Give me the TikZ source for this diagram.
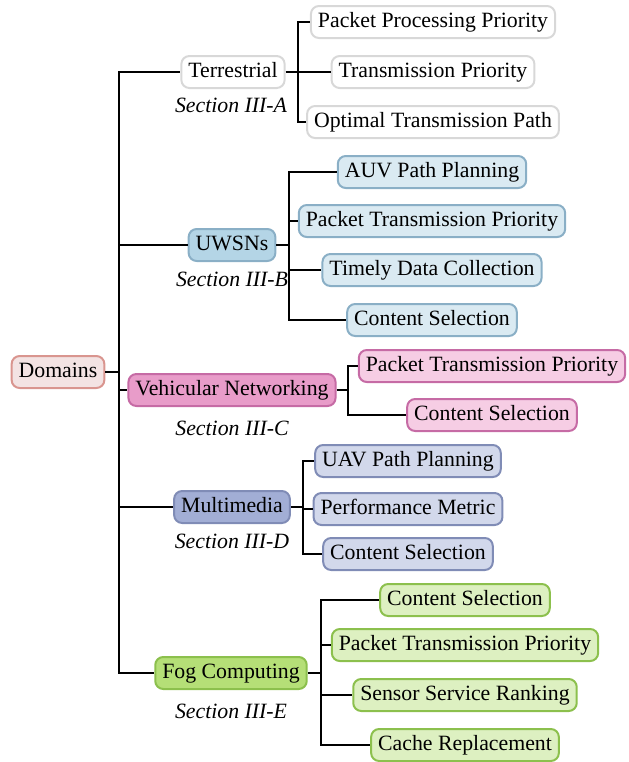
\documentclass[tikz,border=0pt]{standalone}
\usepackage{fontspec}
\setmainfont{Liberation Serif}
\definecolor{rootfill}{HTML}{F3E3E3}
\definecolor{rootline}{HTML}{D9958F}
\definecolor{greyline}{HTML}{D8D8D8}
\definecolor{bluepf}{HTML}{B4D5E6}
\definecolor{bluecf}{HTML}{DAEAF2}
\definecolor{blueline}{HTML}{8AAFC6}
\definecolor{pinkpf}{HTML}{E89CC9}
\definecolor{pinkcf}{HTML}{F6CDE4}
\definecolor{pinkline}{HTML}{C66BA5}
\definecolor{purppf}{HTML}{A2AED5}
\definecolor{purpcf}{HTML}{D2D8EB}
\definecolor{purpline}{HTML}{808CB6}
\definecolor{greenpf}{HTML}{B5DF77}
\definecolor{greencf}{HTML}{DDF0C1}
\definecolor{greenline}{HTML}{8CC04D}
\begin{document}
\begin{tikzpicture}[x=0.5pt,y=-0.5pt,
  box/.style={draw, line width=1pt, rounded corners=4pt, inner xsep=3.5pt, inner ysep=2pt,
    minimum height=16pt, text height=7.4pt, text depth=1.6pt, font=\fontsize{10.9}{13}\selectfont},
  sec/.style={font=\fontsize{10.9}{13}\selectfont\itshape},
  link/.style={line width=0.6pt},
  greybox/.style={box, draw=greyline, fill=white},
  rootbox/.style={box, draw=rootline, fill=rootfill},
  bluep/.style={box, draw=blueline, fill=bluepf},
  bluec/.style={box, draw=blueline, fill=bluecf},
  pinkp/.style={box, draw=pinkline, fill=pinkpf},
  pinkc/.style={box, draw=pinkline, fill=pinkcf},
  purpp/.style={box, draw=purpline, fill=purppf},
  purpc/.style={box, draw=purpline, fill=purpcf},
  greenp/.style={box, draw=greenline, fill=greenpf},
  greenc/.style={box, draw=greenline, fill=greencf}]
\useasboundingbox (0,0) rectangle (628,762);

% root and trunk
\node[rootbox] (dom) at (58,372) {Domains};
\coordinate (trunk) at (119,372);
\draw[link] (dom.east) -- (trunk);

% Terrestrial
\node[greybox] (ter) at (233,72) {Terrestrial};
\node[sec] at (231,105) {Section III-A};
\node[greybox] (ter1) at (433,22) {Packet Processing Priority};
\node[greybox] (ter2) at (433,72) {Transmission Priority};
\node[greybox] (ter3) at (433,122) {Optimal Transmission Path};
\coordinate (terj) at (298,72);

% UWSNs
\node[bluep] (uw) at (232,245) {UWSNs};
\node[sec] at (232,279) {Section III-B};
\node[bluec] (uw1) at (432,172) {AUV Path Planning};
\node[bluec] (uw2) at (432,221) {Packet Transmission Priority};
\node[bluec] (uw3) at (432,270) {Timely Data Collection};
\node[bluec] (uw4) at (432,320) {Content Selection};
\coordinate (uwj) at (289,245);

% Vehicular Networking
\node[pinkp] (veh) at (232,390) {Vehicular Networking};
\node[sec] at (232,428) {Section III-C};
\node[pinkc] (veh1) at (492,366) {Packet Transmission Priority};
\node[pinkc] (veh2) at (492,415) {Content Selection};
\coordinate (vehj) at (348,390);

% Multimedia
\node[purpp] (mm) at (232,507) {Multimedia};
\node[sec] at (232,541) {Section III-D};
\node[purpc] (mm1) at (408,461) {UAV Path Planning};
\node[purpc] (mm2) at (408,509) {Performance Metric};
\node[purpc] (mm3) at (408,554) {Content Selection};
\coordinate (mmj) at (303,507);

% Fog Computing
\node[greenp] (fog) at (231,673) {Fog Computing};
\node[sec] at (231,711) {Section III-E};
\node[greenc] (fog1) at (465,600) {Content Selection};
\node[greenc] (fog2) at (465,645) {Packet Transmission Priority};
\node[greenc] (fog3) at (465,695) {Sensor Service Ranking};
\node[greenc] (fog4) at (465,745) {Cache Replacement};
\coordinate (fogj) at (321,673);

% trunk to the domains
\foreach \p in {ter,uw,veh,mm,fog}
  \draw[link] (trunk) |- (\p.west);

% domains to their topics
\draw[link] (ter.east) -- (terj);
\foreach \c in {ter1,ter2,ter3} \draw[link] (terj) |- (\c.west);
\draw[link] (uw.east) -- (uwj);
\foreach \c in {uw1,uw2,uw3,uw4} \draw[link] (uwj) |- (\c.west);
\draw[link] (veh.east) -- (vehj);
\foreach \c in {veh1,veh2} \draw[link] (vehj) |- (\c.west);
\draw[link] (mm.east) -- (mmj);
\foreach \c in {mm1,mm2,mm3} \draw[link] (mmj) |- (\c.west);
\draw[link] (fog.east) -- (fogj);
\foreach \c in {fog1,fog2,fog3,fog4} \draw[link] (fogj) |- (\c.west);
\end{tikzpicture}
\end{document}
